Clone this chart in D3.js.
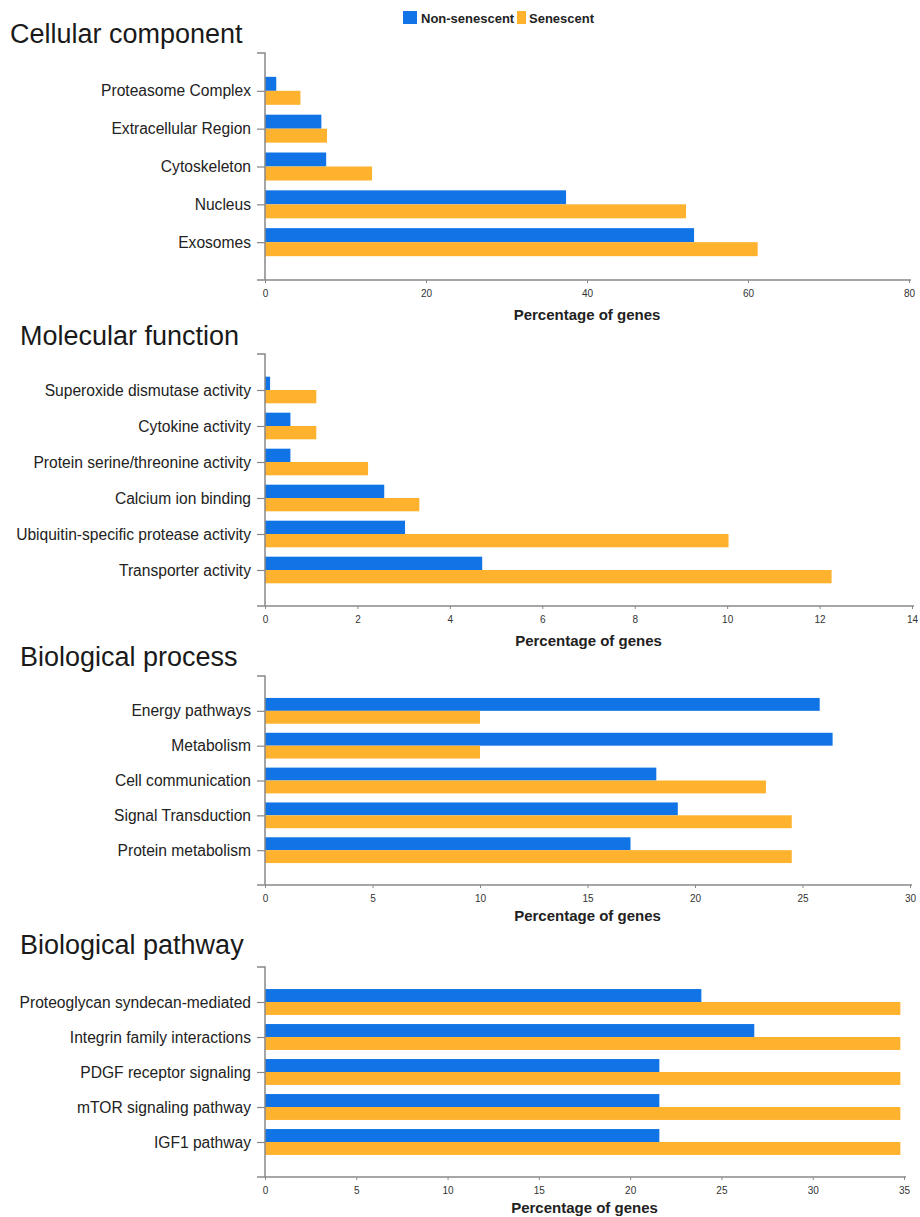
<!DOCTYPE html>
<html>
<head>
<meta charset="utf-8">
<script src="https://cdn.jsdelivr.net/npm/d3@7"></script>
<style>
  body { margin: 0; background: #fff; }
  svg { font-family: "Liberation Sans", Arial, sans-serif; }
</style>
</head>
<body>
<svg id="chart"></svg>
<script>
    // Data (percentage of genes)
    const seriesNames = ["Non-senescent", "Senescent"];
    const seriesColors = ["#1174e6", "#ffb22e"];

    const ccCategories = ["Proteasome Complex", "Extracellular Region", "Cytoskeleton", "Nucleus", "Exosomes"];
    const ccNonSenescent = [1.4, 7.0, 7.6, 37.4, 53.3];
    const ccSenescent = [4.4, 7.7, 13.3, 52.3, 61.2];
    const ccTicks = [0, 20, 40, 60, 80];

    const mfCategories = ["Superoxide dismutase activity", "Cytokine activity", "Protein serine/threonine activity",
      "Calcium ion binding", "Ubiquitin-specific protease activity", "Transporter activity"];
    const mfNonSenescent = [0.11, 0.55, 0.55, 2.58, 3.03, 4.70];
    const mfSenescent = [1.11, 1.11, 2.23, 3.34, 10.03, 12.26];
    const mfTicks = [0, 2, 4, 6, 8, 10, 12, 14];

    const bpCategories = ["Energy pathways", "Metabolism", "Cell communication", "Signal Transduction", "Protein metabolism"];
    const bpNonSenescent = [25.8, 26.4, 18.2, 19.2, 17.0];
    const bpSenescent = [10.0, 10.0, 23.3, 24.5, 24.5];
    const bpTicks = [0, 5, 10, 15, 20, 25, 30];

    const pwCategories = ["Proteoglycan syndecan-mediated", "Integrin family interactions", "PDGF receptor signaling",
      "mTOR signaling pathway", "IGF1 pathway"];
    const pwNonSenescent = [23.9, 26.8, 21.6, 21.6, 21.6];
    const pwSenescent = [34.8, 34.8, 34.8, 34.8, 34.8];
    const pwTicks = [0, 5, 10, 15, 20, 25, 30, 35];

    const width = 920, height = 1217;
    const svg = d3.select("#chart").attr("width", width).attr("height", height);

    // panel layout
    const panels = [
      { title: "Cellular component", cats: ccCategories, non: ccNonSenescent, sen: ccSenescent, ticks: ccTicks,
        titleX: 10, titleY: 43, top: 53, bottom: 280, left: 265, right: 909, labelGap: 40 },
      { title: "Molecular function", cats: mfCategories, non: mfNonSenescent, sen: mfSenescent, ticks: mfTicks,
        titleX: 20, titleY: 345, top: 354, bottom: 606, left: 265, right: 912, labelGap: 40 },
      { title: "Biological process", cats: bpCategories, non: bpNonSenescent, sen: bpSenescent, ticks: bpTicks,
        titleX: 20, titleY: 666, top: 676, bottom: 885, left: 265, right: 910, labelGap: 36 },
      { title: "Biological pathway", cats: pwCategories, non: pwNonSenescent, sen: pwSenescent, ticks: pwTicks,
        titleX: 20, titleY: 954, top: 967, bottom: 1177, left: 265, right: 904, labelGap: 36 }
    ];

    panels.forEach(p => {
      const g = svg.append("g");

      g.append("text")
        .attr("x", p.titleX).attr("y", p.titleY)
        .attr("font-size", 27).attr("fill", "#1a1a1a")
        .text(p.title);

      const x = d3.scaleLinear()
        .domain([p.ticks[0], p.ticks[p.ticks.length - 1]])
        .range([p.left, p.right]);

      const y = d3.scalePoint()
        .domain(p.cats)
        .range([p.top, p.bottom])
        .padding(1);

      const barH = y.step() * 0.37;

      // bars
      const rows = p.cats.map((c, i) => ({ cat: c, non: p.non[i], sen: p.sen[i] }));
      g.selectAll(".non").data(rows).join("rect")
        .attr("x", x(0))
        .attr("y", d => y(d.cat) - barH)
        .attr("width", d => x(d.non) - x(0))
        .attr("height", barH)
        .attr("fill", seriesColors[0]);
      g.selectAll(".sen").data(rows).join("rect")
        .attr("x", x(0))
        .attr("y", d => y(d.cat))
        .attr("width", d => x(d.sen) - x(0))
        .attr("height", barH)
        .attr("fill", seriesColors[1]);

      // y axis
      const yAxis = g.append("g")
        .attr("transform", `translate(${x(0)},0)`)
        .call(d3.axisLeft(y).tickSize(8).tickSizeOuter(0).tickPadding(6));
      yAxis.select(".domain").remove();
      yAxis.selectAll(".tick line").attr("stroke", "#888").attr("stroke-width", 1.2);
      yAxis.selectAll(".tick text").attr("font-size", 15.6).attr("fill", "#222")
        .attr("font-family", "Liberation Sans, Arial, sans-serif");
      g.append("path")
        .attr("d", `M${x(0) - 8},${p.top}H${x(0)}V${p.bottom}`)
        .attr("fill", "none").attr("stroke", "#888").attr("stroke-width", 1.5);

      // x axis
      const xAxis = g.append("g")
        .attr("transform", `translate(0,${p.bottom})`)
        .call(d3.axisBottom(x).tickValues(p.ticks).tickSize(3).tickSizeOuter(0).tickPadding(7));
      xAxis.select(".domain").remove();
      xAxis.selectAll(".tick line").attr("stroke", "#888");
      xAxis.selectAll(".tick text").attr("font-size", 10).attr("fill", "#333")
        .attr("font-family", "Liberation Sans Narrow, Liberation Sans, Arial, sans-serif");
      g.append("path")
        .attr("d", `M${x(0) - 8},${p.bottom}H${p.right + 2}`)
        .attr("fill", "none").attr("stroke", "#888").attr("stroke-width", 1.5);

      g.append("text")
        .attr("x", (p.left + p.right) / 2).attr("y", p.bottom + p.labelGap)
        .attr("text-anchor", "middle")
        .attr("font-size", 15).attr("font-weight", "bold").attr("fill", "#222")
        .text("Percentage of genes");
    });

    // legend
    const legend = svg.append("g").attr("transform", "translate(403,11)");
    legend.append("rect").attr("x", 0).attr("y", 0).attr("width", 14).attr("height", 13).attr("fill", seriesColors[0]);
    legend.append("text").attr("x", 18).attr("y", 12).attr("font-size", 13).attr("font-weight", "bold")
      .attr("fill", "#222").text(seriesNames[0]);
    legend.append("rect").attr("x", 114).attr("y", 0).attr("width", 9).attr("height", 13).attr("fill", seriesColors[1]);
    legend.append("text").attr("x", 126).attr("y", 12).attr("font-size", 13).attr("font-weight", "bold")
      .attr("fill", "#222").text(seriesNames[1]);
</script>
</body>
</html>
